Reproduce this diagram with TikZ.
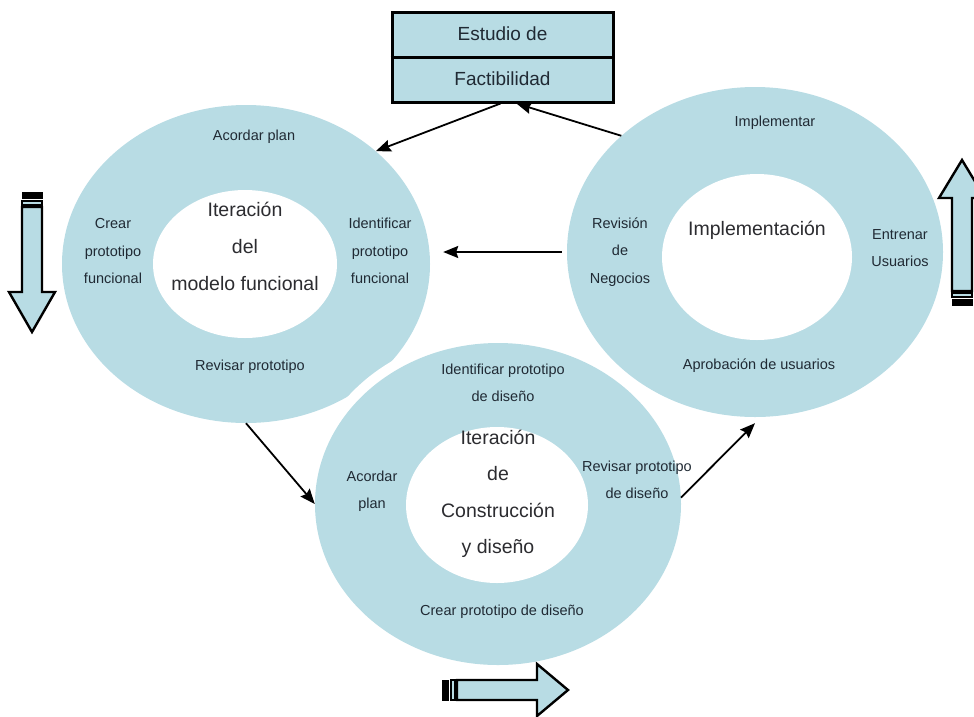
\documentclass[tikz,border=0pt]{standalone}
\usepackage{fontspec}
\setmainfont{Liberation Sans}
\usetikzlibrary{shapes.geometric,arrows.meta,calc}
\definecolor{ring}{RGB}{184,220,228}
\definecolor{ink}{RGB}{32,42,52}
\definecolor{core}{RGB}{44,44,48}

\begin{document}
\begin{tikzpicture}[x=1pt,y=-1pt,
  ringnode/.style={ellipse, fill=ring, inner sep=0pt},
  holenode/.style={ellipse, fill=white, inner sep=0pt},
  halonode/.style={ellipse, fill=white, inner sep=0pt},
  lbl/.style={font=\fontsize{14.5}{27.5}\selectfont, text=ink, align=center, inner sep=0pt},
  title/.style={font=\fontsize{19.5}{37}\selectfont, text=core, align=center, inner sep=0pt},
  boxtext/.style={font=\fontsize{19}{22}\selectfont, text=ink, inner sep=0pt},
  flow/.style={line width=1.8pt, -{Stealth[length=15pt,width=12pt,inset=2pt]}},
  blockarrow/.style={fill=ring, draw=black, line width=2.4pt, line join=miter},
]
\useasboundingbox (0,0) rectangle (974,716);
\clip (0,0) rectangle (974,716);

% --- rings ---------------------------------------------------------------
\node[ringnode, minimum width=368pt, minimum height=318pt] (L) at (246,264) {};
\node[holenode, minimum width=184pt, minimum height=148pt] (Lh) at (245,264) {};

\node[ringnode, minimum width=376pt, minimum height=330pt] (R) at (755,252) {};
\node[holenode, minimum width=190pt, minimum height=166pt] (Rh) at (757,257) {};

\node[halonode, minimum width=386pt, minimum height=342pt] (Bhalo) at (498,504) {};
\node[ringnode, minimum width=366pt, minimum height=322pt] (B) at (498,504) {};
\node[holenode, minimum width=182pt, minimum height=156pt] (Bh) at (497,505) {};

% --- feasibility box -----------------------------------------------------
\node[draw=black, fill=ring, line width=3pt, minimum width=221pt, minimum height=90pt,
      inner sep=0pt] (box) at (502.5,57) {};
\draw[line width=3pt] (box.west) -- (box.east);
\node[boxtext] (est) at (502.5,34) {Estudio de};
\node[boxtext] (fac) at (502.5,79) {Factibilidad};

% --- functional model iteration -----------------------------------------
\node[lbl] (l1) at (254,137) {Acordar plan};
\node[lbl] (l2) at (113,251) {Crear\\prototipo\\funcional};
\node[title] (lt) at (245,246) {Iteración\\del\\modelo funcional};
\node[lbl] (l3) at (380,251) {Identificar\\prototipo\\funcional};
\node[lbl] (l4) at (250,367) {Revisar prototipo};

% --- implementation ------------------------------------------------------
\node[lbl] (r1) at (775,123) {Implementar};
\node[lbl] (r2) at (620,252) {Revisión\\de\\Negocios};
\node[title] (rt) at (757,230) {Implementación};
\node[lbl] (r3) at (900,248) {Entrenar\\Usuarios};
\node[lbl] (r4) at (759,366) {Aprobación de usuarios};

% --- design and build iteration -----------------------------------------
\node[lbl, font=\fontsize{14.5}{26.5}\selectfont] (b1) at (503,383) {Identificar prototipo\\de diseño};
\node[lbl] (b2) at (372,491) {Acordar\\plan};
\node[title, font=\fontsize{19.5}{36.5}\selectfont] (bt) at (498,494) {Iteración\\de\\Construcción\\y diseño};
\node[lbl, font=\fontsize{14.5}{26.5}\selectfont] (b3) at (637,480) {Revisar prototipo\\de diseño};
\node[lbl] (b4) at (502,612) {Crear prototipo de diseño};

% --- connectors ----------------------------------------------------------
\draw[flow] ([xshift=-2pt]box.south) -- (L.41);
\draw[flow] (R.139) -- ([xshift=14pt]box.south);
\draw[flow] ([xshift=-5pt]R.west) -- ($(L.east |- R.west)+(13,0)$);
\draw[flow] (L.south) -- (B.west);
\draw[flow] (B.2) -- ([yshift=-6pt]R.south);

% --- striped block arrows ------------------------------------------------
% left, pointing down
\filldraw[black, line width=1pt] (22,192) rectangle (42,198);
\draw[blockarrow] (22,201) rectangle (42,205);
\draw[blockarrow] (22,207) -- (42,207) -- (42,292) -- (55,292) -- (32,332)
  -- (9,292) -- (22,292) -- cycle;

% right, pointing up
\filldraw[black, line width=1pt] (952,299) rectangle (972,305);
\draw[blockarrow] (952,293) rectangle (972,297);
\draw[blockarrow] (952,291) -- (972,291) -- (972,198) -- (985,198) -- (962,160)
  -- (939,198) -- (952,198) -- cycle;

% bottom, pointing right
\filldraw[black, line width=1pt] (442,680) rectangle (448,700);
\draw[blockarrow] (451,680) rectangle (455,700);
\draw[blockarrow] (457,680) -- (457,700) -- (537,700) -- (537,716) -- (568,690)
  -- (537,664) -- (537,680) -- cycle;
\end{tikzpicture}
\end{document}
